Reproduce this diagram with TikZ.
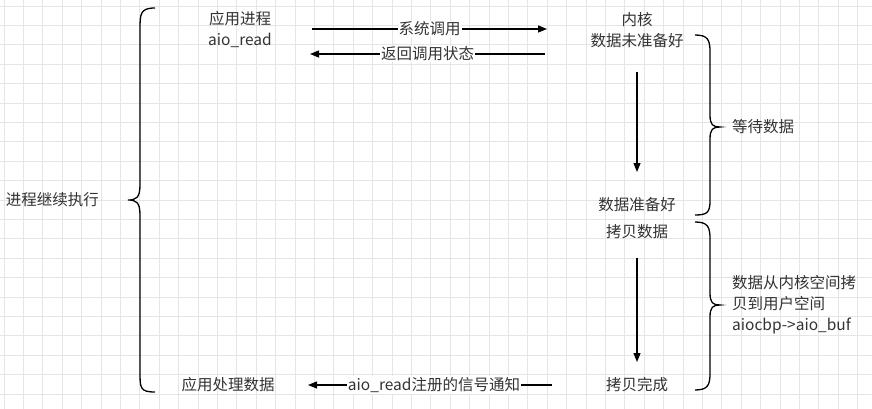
\documentclass[tikz,border=0pt]{standalone}
\usepackage{fontspec}
\setmainfont{Noto Sans CJK SC}
\usetikzlibrary{arrows.meta}
\begin{document}
\begin{tikzpicture}[x=1pt,y=-1pt,
  txt/.style={font=\fontsize{15.5}{21}\selectfont,text=black!80,align=center,inner sep=1pt},
  lbl/.style={txt,fill=white},
  arr/.style={line width=1.3pt,-{Triangle[length=9pt,width=7pt]}},
  brace/.style={line width=1.3pt}]
\useasboundingbox (0,0) rectangle (872,409);
\fill[white] (0,0) rectangle (872,409);
\foreach \i in {0,...,45} \draw[black!10,line width=0.7pt] (\i*19.4+4,0) -- (\i*19.4+4,409);
\foreach \i in {0,...,21} \draw[black!10,line width=0.7pt] (0,\i*19.4+6) -- (872,\i*19.4+6);
% left brace
\draw[brace] (155,8) .. controls (140,8) and (140,14) .. (140,30) -- (140,185) .. controls (140,198) and (136,200) .. (128,200)
  .. controls (136,200) and (140,202) .. (140,215) -- (140,372) .. controls (140,388) and (140,392) .. (155,392);
\node[txt,anchor=east] (cont) at (100,200) {进程继续执行};
\node[txt] (app) at (240,30) {应用进程\\aio\_read};
\node[txt] (kern) at (637,30) {内核\\数据未准备好};
\coordinate (a1s) at (312,29); \coordinate (a1e) at (547,29);
\coordinate (a2s) at (545,54); \coordinate (a2e) at (310,54);
\draw[arr] (a1s) -- (a1e) node[lbl,midway] (l1) {系统调用};
\draw[arr] (a2s) -- (a2e) node[lbl,midway] (l2) {返回调用状态};
% right brace 1
\draw[brace] (695,35) .. controls (708,35) and (710,40) .. (710,52) -- (710,115) .. controls (710,125) and (713,127) .. (720,127)
  .. controls (713,127) and (710,129) .. (710,139) -- (710,200) .. controls (710,212) and (708,215) .. (695,215);
\node[txt,anchor=west] (wait) at (731,127) {等待数据};
\node[txt] (ready) at (637,205) {数据准备好};
\node[txt] (copy) at (637,232) {拷贝数据};
\draw[arr] (637,72) -- (637,172);
% right brace 2
\draw[brace] (695,222) .. controls (708,222) and (710,227) .. (710,239) -- (710,293) .. controls (710,303) and (713,305) .. (720,305)
  .. controls (713,305) and (710,307) .. (710,317) -- (710,373) .. controls (710,385) and (708,390) .. (695,390);
\node[txt,anchor=west,align=left] (cp) at (731,305) {数据从内核空间拷\\贝到用户空间\\aiocbp->aio\_buf};
\node[txt] (done) at (637,385) {拷贝完成};
\draw[arr] (637,258) -- (637,362);
\node[txt] (proc) at (228,385) {应用处理数据};
\draw[arr] (552,385) -- (308,385) node[lbl,midway,xshift=4pt] (l3) {aio\_read注册的信号通知};
\end{tikzpicture}
\end{document}
